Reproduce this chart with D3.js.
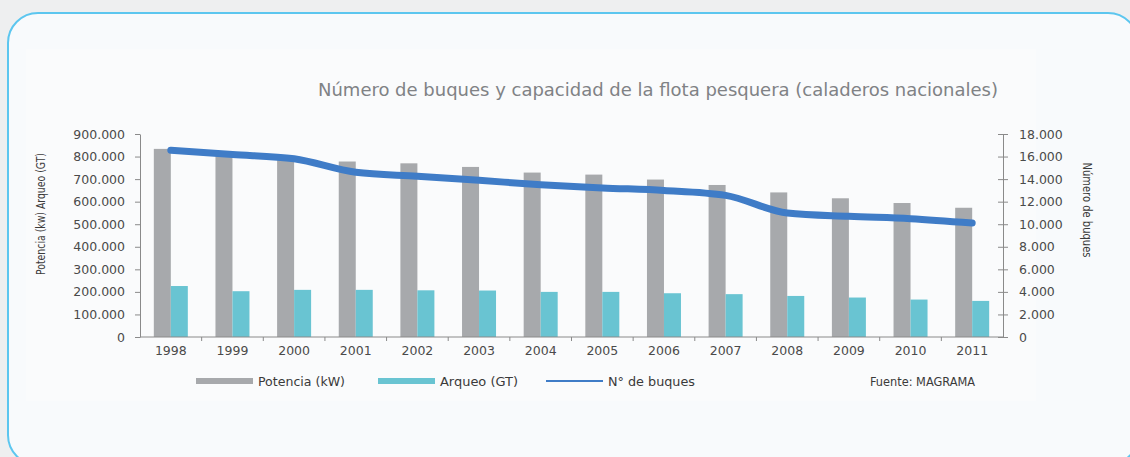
<!DOCTYPE html>
<html>
<head>
<meta charset="utf-8">
<script src="https://cdn.jsdelivr.net/npm/d3@7"></script>
<style>
  html, body { margin: 0; padding: 0; background: #eeeff0; }
  svg { display: block; }
</style>
</head>
<body>
<div id="chart"></div>
<script>
// ---- data ----
const years = ["1998", "1999", "2000", "2001", "2002", "2003", "2004",
               "2005", "2006", "2007", "2008", "2009", "2010", "2011"];
const potencia = [834000, 812000, 792000, 778000, 770000, 754000, 729000,
                  720000, 698000, 674000, 641000, 615000, 594000, 573000];
const arqueo = [226000, 203000, 209000, 209000, 207000, 206000, 200000,
                200000, 194000, 190000, 182000, 175000, 166000, 160000];
const buques = [16560, 16180, 15800, 14600, 14250, 13890, 13510,
                13220, 13000, 12560, 11000, 10700, 10490, 10100];
const leftTicks = [0, 100000, 200000, 300000, 400000, 500000, 600000, 700000, 800000, 900000];
const rightTicks = [0, 2000, 4000, 6000, 8000, 10000, 12000, 14000, 16000, 18000];

const W = 1130, H = 457;
const margin = {top: 134, right: 127, bottom: 120, left: 140};
const width = W - margin.left - margin.right;
const height = H - margin.top - margin.bottom;

const fmt = v => v === 0 ? "0" : d3.format(",")(v).replace(/,/g, ".");
const narrow = "'DejaVu Sans Condensed', 'Liberation Sans Narrow', 'DejaVu Sans', sans-serif";

const svg = d3.select("#chart").append("svg")
    .attr("width", W)
    .attr("height", H);

// card
svg.append("rect")
    .attr("x", 8).attr("y", 13)
    .attr("width", 1130).attr("height", 452)
    .attr("rx", 30)
    .attr("fill", "#f8fafc")
    .attr("stroke", "#5cc6ef")
    .attr("stroke-width", 2);

svg.append("rect")
    .attr("x", 26).attr("y", 49)
    .attr("width", 1010).attr("height", 352)
    .attr("fill", "#fafbfc");

const g = svg.append("g")
    .attr("transform", `translate(${margin.left},${margin.top})`);

// ---- scales ----
const x = d3.scaleBand().domain(years).range([0, width]);
const xs = d3.scaleBand().domain(["p", "a"]).range([x.bandwidth() / 2 - 17, x.bandwidth() / 2 + 17]);
const yL = d3.scaleLinear().domain([0, 900000]).range([height, 0]);
const yR = d3.scaleLinear().domain([0, 18000]).range([height, 0]);

// ---- bars ----
const grp = g.selectAll("g.year")
    .data(years)
    .join("g")
    .attr("transform", d => `translate(${x(d)},0)`);

grp.append("rect")
    .attr("x", xs("p"))
    .attr("width", xs.bandwidth())
    .attr("y", (d, i) => yL(potencia[i]))
    .attr("height", (d, i) => height - yL(potencia[i]))
    .attr("fill", "#a7a9ac");

grp.append("rect")
    .attr("x", xs("a"))
    .attr("width", xs.bandwidth())
    .attr("y", (d, i) => yL(arqueo[i]))
    .attr("height", (d, i) => height - yL(arqueo[i]))
    .attr("fill", "#69c4d2");

// ---- axes ----
const axisStyle = sel => {
    sel.select(".domain").attr("stroke", "#8a8a8a");
    sel.selectAll(".tick line").attr("stroke", "#8a8a8a");
    sel.selectAll("text")
        .attr("fill", "#4a4a4a")
        .style("font-family", "'DejaVu Sans', sans-serif")
        .style("font-size", "12.5px");
};

g.append("g")
    .call(d3.axisLeft(yL).tickValues(leftTicks).tickFormat(fmt).tickSize(5).tickSizeOuter(0).tickPadding(10))
    .call(axisStyle);

g.append("g")
    .attr("transform", `translate(${width},0)`)
    .call(d3.axisRight(yR).tickValues(rightTicks).tickFormat(fmt).tickSize(5).tickSizeOuter(0).tickPadding(11))
    .call(axisStyle)
    .call(a => a.selectAll(".tick line").attr("x1", -5));

const xAxis = g.append("g")
    .attr("transform", `translate(0,${height})`)
    .call(d3.axisBottom(x).tickSize(0).tickPadding(9))
    .call(axisStyle);
xAxis.select(".domain").attr("d", `M0,0H${width}`);
xAxis.selectAll(".sep")
    .data(years.slice(1))
    .join("line")
    .attr("class", "sep")
    .attr("x1", d => x(d)).attr("x2", d => x(d))
    .attr("y1", 0).attr("y2", 4)
    .attr("stroke", "#8a8a8a");

// ---- line ----
const line = d3.line()
    .x((d, i) => x(years[i]) + x.bandwidth() / 2)
    .y(d => yR(d))
    .curve(d3.curveMonotoneX);

g.append("path")
    .datum(buques)
    .attr("fill", "none")
    .attr("stroke", "#3f7cc7")
    .attr("stroke-width", 7)
    .attr("stroke-linecap", "round")
    .attr("stroke-linejoin", "round")
    .attr("d", line);

// ---- titles ----
svg.append("text")
    .attr("x", 318).attr("y", 96)
    .attr("textLength", 680)
    .attr("lengthAdjust", "spacingAndGlyphs")
    .attr("fill", "#808285")
    .style("font-family", narrow)
    .style("font-size", "18px")
    .text("Número de buques y capacidad de la flota pesquera (caladeros nacionales)");

svg.append("text")
    .attr("transform", "translate(45,214) rotate(-90)")
    .attr("text-anchor", "middle")
    .attr("textLength", 122)
    .attr("lengthAdjust", "spacingAndGlyphs")
    .attr("fill", "#3a3a3a")
    .style("font-family", narrow)
    .style("font-size", "12px")
    .text("Potencia (kw) Arqueo (GT)");

svg.append("text")
    .attr("transform", "translate(1083,210) rotate(90)")
    .attr("text-anchor", "middle")
    .attr("textLength", 95)
    .attr("lengthAdjust", "spacingAndGlyphs")
    .attr("fill", "#3a3a3a")
    .style("font-family", narrow)
    .style("font-size", "12px")
    .text("Número de buques");

// ---- legend ----
const legendData = [
    {name: "Potencia (kW)", color: "#a7a9ac", x: 196, len: 87, h: 6},
    {name: "Arqueo (GT)", color: "#69c4d2", x: 378, len: 78, h: 6},
    {name: "N° de buques", color: "#3f7cc7", x: 546, len: 87, h: 2}
];

const lg = svg.append("g").attr("transform", "translate(0,381)");
lg.selectAll("rect")
    .data(legendData)
    .join("rect")
    .attr("x", d => d.x)
    .attr("y", d => -d.h / 2)
    .attr("width", 57)
    .attr("height", d => d.h)
    .attr("fill", d => d.color);
lg.selectAll("text")
    .data(legendData)
    .join("text")
    .attr("x", d => d.x + 62)
    .attr("y", 4.5)
    .attr("textLength", d => d.len)
    .attr("lengthAdjust", "spacingAndGlyphs")
    .attr("fill", "#3a3a3a")
    .style("font-family", narrow)
    .style("font-size", "12.5px")
    .text(d => d.name);

svg.append("text")
    .attr("x", 870).attr("y", 385.5)
    .attr("textLength", 105)
    .attr("lengthAdjust", "spacingAndGlyphs")
    .attr("fill", "#3a3a3a")
    .style("font-family", narrow)
    .style("font-size", "12.5px")
    .text("Fuente: MAGRAMA");
</script>
</body>
</html>
